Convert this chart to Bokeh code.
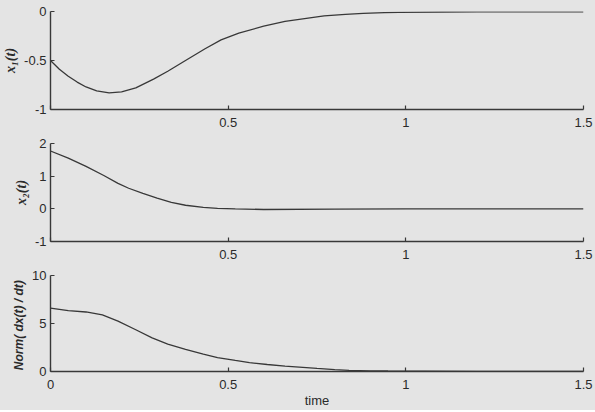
from bokeh.plotting import figure
from bokeh.layouts import column
from bokeh.models import Range1d, FixedTicker
from bokeh.embed import file_html
from bokeh.resources import INLINE

# ---- data ----
t_x1 = [0, 0.025, 0.05, 0.075, 0.1, 0.13, 0.165, 0.2, 0.24, 0.29, 0.33, 0.38, 0.435,
        0.48, 0.53, 0.6, 0.66, 0.72, 0.77, 0.83, 0.88, 0.94, 0.98, 1.1, 1.2, 1.35, 1.5]
x1 = [-0.5, -0.59, -0.66, -0.72, -0.77, -0.81, -0.83, -0.82, -0.78, -0.69, -0.61, -0.50, -0.38,
      -0.29, -0.22, -0.15, -0.10, -0.07, -0.045, -0.03, -0.02, -0.012, -0.008, -0.005, -0.004,
      -0.003, -0.003]

t_x2 = [0, 0.05, 0.1, 0.15, 0.19, 0.22, 0.26, 0.3, 0.34, 0.38, 0.43, 0.47, 0.52, 0.6, 0.8, 1.0, 1.5]
x2 = [1.77, 1.55, 1.30, 1.02, 0.78, 0.63, 0.47, 0.33, 0.20, 0.11, 0.045, 0.015, 0.0, -0.02, -0.01, 0.0, 0.0]

t_norm = [0, 0.05, 0.1, 0.146, 0.19, 0.24, 0.286, 0.33, 0.38, 0.43, 0.47, 0.52, 0.56, 0.61,
          0.66, 0.71, 0.75, 0.8, 0.84, 0.9, 0.95, 1.05, 1.2, 1.5]
norm_dx = [6.6, 6.35, 6.2, 5.9, 5.25, 4.35, 3.5, 2.85, 2.3, 1.8, 1.45, 1.15, 0.92, 0.73,
           0.57, 0.43, 0.32, 0.2, 0.12, 0.07, 0.05, 0.03, 0.01, 0.0]

x_ticks = [0, 0.5, 1, 1.5]
x_tick_labels = ["0", "0.5", "1", "1.5"]
x1_ticks = [-1, -0.5, 0]
x1_tick_labels = ["-1", "-0.5", "0"]
x2_ticks = [-1, 0, 1, 2]
x2_tick_labels = ["-1", "0", "1", "2"]
norm_ticks = [0, 5, 10]
norm_tick_labels = ["0", "5", "10"]

BG = "#e4e4e4"
INK = "#383838"
FONT = "Liberation Sans"


def panel(height, top, bottom, yr, yticks, ylabels, ylabel, ylabel_font, ylabel_size,
          show_x0, xlabel=None):
    p = figure(width=595, height=height, output_backend="svg", toolbar_location=None,
               x_range=Range1d(0, 1.5), y_range=Range1d(*yr),
               min_border_left=49, min_border_right=12,
               min_border_top=top, min_border_bottom=bottom,
               background_fill_color=BG, border_fill_color=BG,
               outline_line_color=None)
    p.grid.visible = False
    for ax in (p.xaxis[0], p.yaxis[0]):
        ax.axis_line_color = INK
        ax.axis_line_width = 1.4
        ax.major_tick_line_color = INK
        ax.major_tick_line_width = 1.2
        ax.major_tick_in = 4
        ax.major_tick_out = 0
        ax.minor_tick_line_color = None
        ax.major_label_text_font = FONT
        ax.major_label_text_font_size = "13px"
        ax.major_label_text_color = "#2a2a2a"
    xa = p.xaxis[0]
    xa.ticker = FixedTicker(ticks=x_ticks)
    xl = dict(zip(x_ticks, x_tick_labels))
    if not show_x0:
        xl[0] = ""
    xa.major_label_overrides = xl
    xa.major_label_standoff = 8
    if xlabel:
        xa.axis_label = xlabel
        xa.axis_label_text_font = FONT
        xa.axis_label_text_font_style = "normal"
        xa.axis_label_text_font_size = "13px"
        xa.axis_label_text_color = "#2a2a2a"
        xa.axis_label_standoff = 1
    ya = p.yaxis[0]
    ya.ticker = FixedTicker(ticks=yticks)
    ya.major_label_overrides = dict(zip(yticks, ylabels))
    ya.major_label_standoff = 4
    ya.axis_label = ylabel
    ya.axis_label_text_font = ylabel_font
    ya.axis_label_text_font_style = "bold italic"
    ya.axis_label_text_font_size = ylabel_size
    ya.axis_label_text_color = "#2a2a2a"
    ya.axis_label_standoff = 3
    return p


p1 = panel(137, 11, 28, (-1, 0), x1_ticks, x1_tick_labels, "x\u2081(t)",
           "Liberation Serif", "14px", False)
p1.line(t_x1, x1, line_color=INK, line_width=1.3)

p2 = panel(132, 6, 28, (-1, 2), x2_ticks, x2_tick_labels, "x\u2082(t)",
           "Liberation Serif", "14px", False)
p2.line(t_x2, x2, line_color=INK, line_width=1.3)

p3 = panel(141, 6, 38, (0, 10), norm_ticks, norm_tick_labels, "Norm(  dx(t) / dt)",
           FONT, "12px", True, xlabel="time")
p3.line(t_norm, norm_dx, line_color=INK, line_width=1.3)

layout = column(p1, p2, p3, spacing=0, styles={"background-color": BG})

open("out.html", "w").write(file_html(layout, INLINE))
